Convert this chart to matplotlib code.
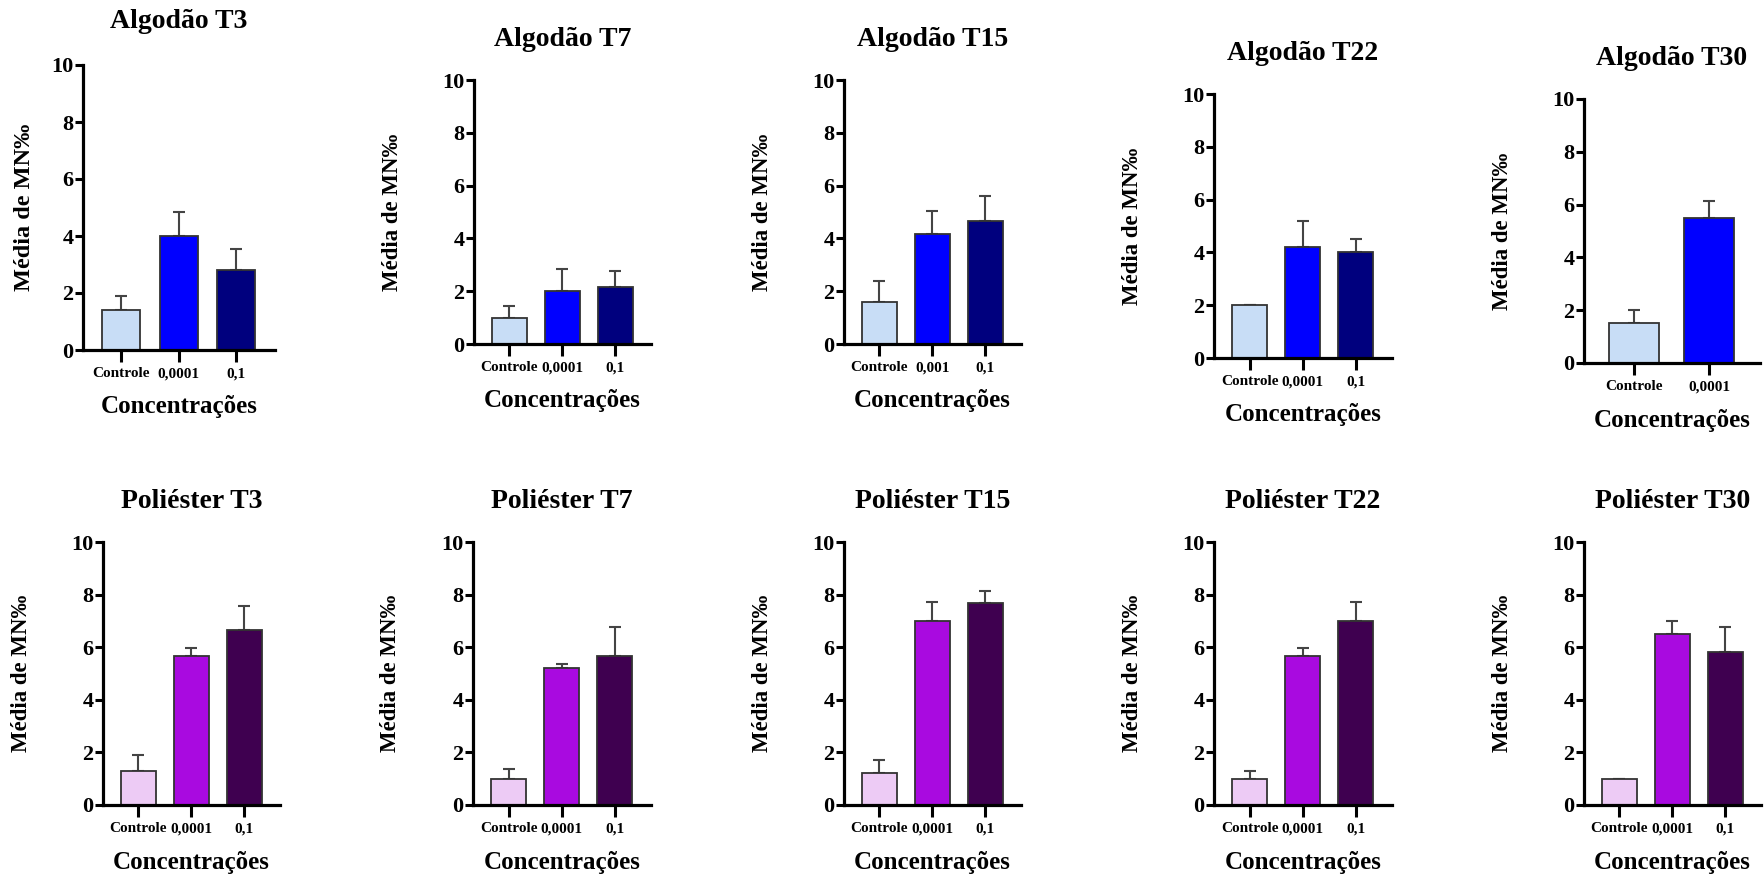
import matplotlib
matplotlib.use("Agg")
import matplotlib.pyplot as plt

plt.rcParams['font.family'] = ['Liberation Serif', 'DejaVu Serif']
plt.rcParams['font.weight'] = 'bold'

# ---------------- data ----------------
titles_alg = ["Algodão T3", "Algodão T7", "Algodão T15", "Algodão T22", "Algodão T30"]
titles_pol = ["Poliéster T3", "Poliéster T7", "Poliéster T15", "Poliéster T22", "Poliéster T30"]

cats_alg = [
    ["Controle", "0,0001", "0,1"],
    ["Controle", "0,0001", "0,1"],
    ["Controle", "0,001", "0,1"],
    ["Controle", "0,0001", "0,1"],
    ["Controle", "0,0001"],
]
cats_pol = [
    ["Controle", "0,0001", "0,1"],
    ["Controle", "0,0001", "0,1"],
    ["Controle", "0,0001", "0,1"],
    ["Controle", "0,0001", "0,1"],
    ["Controle", "0,0001", "0,1"],
]

mean_alg = [
    [1.4, 4.0, 2.8],
    [1.0, 2.0, 2.17],
    [1.6, 4.15, 4.67],
    [2.0, 4.2, 4.0],
    [1.5, 5.5],
]
err_alg = [
    [0.5, 0.83, 0.73],
    [0.44, 0.83, 0.6],
    [0.8, 0.88, 0.93],
    [0.0, 0.98, 0.52],
    [0.5, 0.65],
]
mean_pol = [
    [1.3, 5.65, 6.65],
    [1.0, 5.2, 5.65],
    [1.22, 7.0, 7.67],
    [1.0, 5.65, 7.0],
    [1.0, 6.5, 5.8],
]
err_pol = [
    [0.62, 0.33, 0.92],
    [0.36, 0.18, 1.12],
    [0.5, 0.7, 0.47],
    [0.3, 0.33, 0.7],
    [0.0, 0.5, 0.97],
]

colors_alg = ["#C8DDF6", "#0000FF", "#00007E"]
colors_pol = ["#EDCBF5", "#A90AE0", "#3F0050"]

ylabel = "Média de MN‰"
xlabel = "Concentrações"

# ---------------- layout (pixel boxes: x_left, x_right, y_top, y_bottom) ----------------
W, H = 1764, 876
boxes_top = [(83, 275, 65, 350), (474, 651, 80, 344), (844, 1021, 80, 344),
             (1214, 1392, 94, 358), (1584, 1760, 99, 363)]
boxes_bot = [(103, 280, 542, 805), (473, 651, 542, 805), (844, 1021, 542, 805),
             (1214, 1392, 542, 805), (1584, 1761, 542, 805)]
ylab_dist_top = [58, 82, 82, 82, 82]
ylab_dist_bot = [81, 82, 82, 82, 82]
title_pad_top = [37, 34, 34, 34, 34]
ylab_size_top = [17.5, 16.5, 16.5, 16.5, 16.5]

fig = plt.figure(figsize=(W / 100, H / 100), dpi=100)


def panel(box, title, cats, means, errs, colors, ydist, tpad, ysize):
    xl, xr, yt, yb = box
    ax = fig.add_axes([xl / W, 1 - yb / H, (xr - xl) / W, (yb - yt) / H])
    n = len(cats)
    x = list(range(n))
    ax.bar(x, means, width=0.66, color=colors[:n], edgecolor="#333333", linewidth=1.3, zorder=2)
    ax.errorbar(x, means, yerr=[[0] * n, errs], fmt="none", ecolor="#444444",
                elinewidth=1.5, capsize=4.5, capthick=1.5, zorder=1)
    ax.set_xlim(-0.67, n - 0.32)
    ax.set_ylim(0, 10)
    ax.set_yticks([0, 2, 4, 6, 8, 10])
    ax.set_xticks(x)
    ax.set_xticklabels(cats)
    for s in ("top", "right"):
        ax.spines[s].set_visible(False)
    for s in ("left", "bottom"):
        ax.spines[s].set_linewidth(2.3)
    ax.tick_params(axis="y", length=6, width=2.2, pad=1, labelsize=16)
    ax.tick_params(axis="x", length=8.5, width=2.2, pad=4, labelsize=11)
    ax.set_title(title, fontsize=20, fontweight='bold', pad=tpad * 0.72)
    wpx = xr - xl
    hpx = yb - yt
    ax.set_ylabel(ylabel, fontsize=ysize, fontweight='bold', va='center')
    ax.yaxis.set_label_coords(-ydist / wpx, 0.5)
    ax.set_xlabel(xlabel, fontsize=18, fontweight='bold', va='center')
    ax.xaxis.set_label_coords(0.5, -57 / hpx)
    return ax


for i in range(5):
    panel(boxes_top[i], titles_alg[i], cats_alg[i], mean_alg[i], err_alg[i],
          colors_alg, ylab_dist_top[i], title_pad_top[i], ylab_size_top[i])
    panel(boxes_bot[i], titles_pol[i], cats_pol[i], mean_pol[i], err_pol[i],
          colors_pol, ylab_dist_bot[i], 34, 16.5)

fig.savefig("out.png", dpi=100)
